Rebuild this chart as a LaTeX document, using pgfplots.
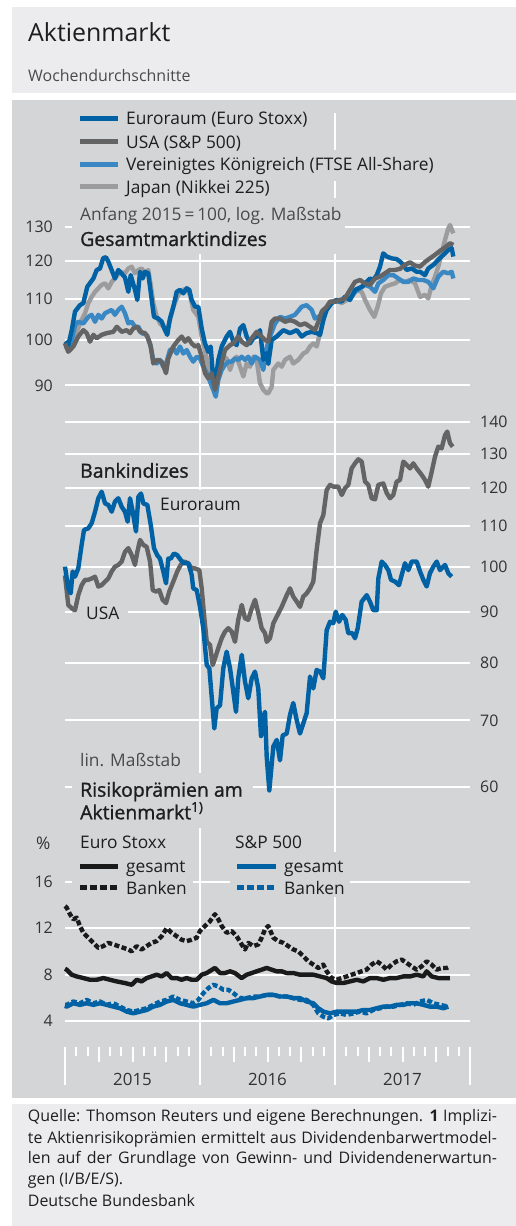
\documentclass[border=0pt]{standalone}
\usepackage{fontspec}
\setmainfont{Open Sans}
\newfontfamily\headfont[FakeBold=1.2]{Open Sans}
\usepackage{pgfplots}
\usepackage{pgfplotstable}
\pgfplotsset{compat=1.18}

\definecolor{panel}{HTML}{D4D5D7}
\definecolor{boxbg}{HTML}{ECECEE}
\definecolor{eublue}{HTML}{0062A5}
\definecolor{usgray}{HTML}{646464}
\definecolor{ukblue}{HTML}{3A88C3}
\definecolor{jpgray}{HTML}{9C9C9E}
\definecolor{txt}{HTML}{1E1E1E}
\definecolor{txtgray}{HTML}{4A4A4A}
\definecolor{tickc}{HTML}{333333}
\definecolor{rpblack}{HTML}{1A1A1A}

\newcommand{\fs}[1]{\fontsize{#1}{#1}\selectfont}

% ---------- Gesamtmarktindizes (Anfang 2015 = 100), x = Monate seit Jan 2015
\pgfplotstableread{
m v
0 99.6
0.29 98.8
0.60 102.3
0.89 106.8
1.33 108.4
1.63 108.9
1.98 113.1
2.52 115.3
2.82 117.6
3.11 118.0
3.40 120.9
3.64 121.1
3.85 119.9
4.44 115.3
4.74 117.6
5.33 115.6
5.63 111.8
5.84 116.2
6.22 112.3
6.43 109.7
6.67 117.1
6.91 115.3
7.11 117.1
7.40 116.7
7.71 109.7
7.91 105.5
8.29 105.1
8.60 104.3
8.89 102.3
9.09 101.2
9.33 105.1
9.63 108.0
9.93 111.8
10.22 112.3
10.52 111.4
10.82 112.7
11.05 112.3
11.26 109.7
11.56 108.0
11.85 108.0
12.15 102.7
12.44 99.2
12.74 97.3
12.95 98.5
13.18 91.2
13.42 91.6
13.63 95.5
13.93 98.5
14.37 100.8
14.67 101.9
14.96 99.6
15.26 98.8
15.56 102.7
15.85 103.5
16.15 100.8
16.44 99.2
16.74 100.4
17.04 100.8
17.33 102.3
17.63 95.5
17.93 97.0
18.07 94.6
18.37 100.0
18.82 100.8
19.40 102.3
20.00 101.6
20.60 102.3
21.04 100.8
21.48 101.6
21.93 101.9
22.37 101.6
22.67 101.2
22.96 104.7
23.26 107.2
23.71 108.9
24.15 109.7
24.60 109.3
24.89 110.5
25.33 109.7
25.78 112.3
26.37 113.1
26.82 114.4
27.11 115.3
27.40 114.9
27.71 116.2
28.00 118.5
28.29 122.2
28.60 121.3
29.04 120.8
29.48 120.6
29.78 119.9
30.07 119.0
30.37 117.6
30.82 118.0
31.26 117.1
31.56 117.1
32.00 116.2
32.29 118.0
32.74 119.0
33.18 120.4
33.63 121.8
34.07 123.2
34.37 123.7
34.52 121.3
}\tabTopEU

\pgfplotstableread{
m v
0 99.2
0.29 97.3
0.74 98.5
1.18 100.8
1.63 102.3
1.93 101.6
2.22 99.6
2.52 101.2
2.82 100.4
3.26 101.2
3.71 101.6
4.29 101.9
4.60 103.1
5.04 101.9
5.48 102.3
5.78 101.6
6.07 102.7
6.43 103.1
6.67 101.9
7.11 101.6
7.32 100.8
7.62 98.5
7.85 94.7
8.20 95.5
8.60 95.1
8.98 92.6
9.18 95.8
9.63 98.5
10.07 100.0
10.37 100.8
10.67 99.6
10.96 100.4
11.26 99.2
11.56 98.5
11.85 98.8
12.15 96.2
12.44 92.6
12.74 91.5
13.04 92.6
13.33 89.1
13.78 93.3
14.22 97.7
14.67 98.8
14.96 99.2
15.40 100.8
15.71 99.6
16.15 98.8
16.60 100.4
17.04 101.9
17.48 100.8
17.78 100.0
18.07 99.6
18.37 104.3
18.67 105.1
19.11 105.1
19.56 104.3
20.00 104.7
20.44 104.3
20.89 103.5
21.33 103.9
21.78 103.1
22.22 102.3
22.52 104.3
22.82 106.8
23.26 108.0
23.56 109.3
24.00 109.3
24.44 109.7
24.89 110.1
25.33 112.3
25.78 114.4
26.22 114.9
26.67 114.0
27.11 113.6
27.56 115.3
28.00 115.8
28.44 116.7
28.89 117.6
29.33 117.6
29.78 117.9
30.22 119.0
30.67 119.7
31.11 118.8
31.56 118.5
32.00 119.8
32.44 120.8
32.89 121.8
33.33 122.9
33.78 123.9
34.22 125.1
34.52 124.6
}\tabTopUS

\pgfplotstableread{
m v
0 98.8
0.44 98.1
0.89 103.5
1.18 104.3
1.63 103.9
2.07 105.5
2.37 106.0
2.67 104.3
2.96 106.0
3.26 105.1
3.56 106.4
3.85 106.8
4.15 107.2
4.44 106.0
4.74 107.2
5.04 108.0
5.33 106.4
5.63 103.9
5.93 104.3
6.22 103.1
6.52 103.1
6.82 101.6
7.26 101.2
7.56 99.2
7.85 95.5
8.15 94.7
8.44 95.5
8.74 94.0
9.04 95.1
9.33 97.7
9.63 98.1
9.93 96.9
10.22 98.5
10.52 96.9
10.82 97.7
11.11 96.2
11.40 95.1
11.71 96.2
12.00 95.8
12.29 94.0
12.60 92.6
12.89 90.8
13.18 89.1
13.40 87.7
13.63 91.2
13.93 93.3
14.22 94.4
14.52 95.1
14.82 95.1
15.11 95.8
15.40 95.5
15.71 96.2
16.00 95.5
16.29 96.2
16.60 94.7
16.89 96.2
17.33 95.5
17.63 93.3
17.87 97.7
18.22 100.8
18.67 103.9
19.11 105.5
19.56 105.1
20.00 105.5
20.44 106.0
21.04 108.0
21.48 108.4
21.93 107.2
22.22 105.1
22.52 105.5
22.82 106.0
23.11 107.2
23.56 108.9
24.00 109.3
24.44 109.3
24.89 110.5
25.33 110.1
25.78 111.8
26.22 112.7
26.67 113.6
27.11 113.1
27.56 111.8
27.85 114.0
28.29 114.9
28.74 116.2
29.18 116.2
29.63 115.3
30.07 114.4
30.52 114.4
30.96 115.3
31.40 114.9
31.85 114.9
32.29 114.4
32.74 112.7
33.18 115.8
33.63 117.1
34.07 116.7
34.37 117.1
34.52 115.3
}\tabTopUK

\pgfplotstableread{
m v
0 98.5
0.44 97.7
0.89 100.8
1.33 103.9
1.78 106.4
2.07 108.9
2.37 110.5
2.67 111.8
2.96 112.7
3.26 113.6
3.56 114.0
3.85 112.7
4.15 114.4
4.44 115.3
4.89 117.1
5.33 116.7
5.63 118.0
5.93 118.5
6.22 116.7
6.52 117.6
6.82 118.0
7.11 116.7
7.40 117.6
7.62 113.6
7.85 108.9
8.15 105.5
8.44 103.9
8.74 103.1
9.04 101.9
9.33 104.7
9.63 108.0
9.93 110.1
10.22 111.8
10.52 112.3
10.82 112.7
11.11 111.0
11.40 107.2
11.85 105.5
12.15 100.8
12.44 97.7
12.74 94.0
13.04 91.2
13.24 89.7
13.48 92.6
13.78 95.5
14.07 96.2
14.37 95.8
14.67 93.3
14.96 95.5
15.26 96.2
15.56 94.0
15.85 91.9
16.15 94.7
16.44 94.0
16.74 96.2
17.04 95.5
17.33 90.5
17.63 89.1
17.93 88.4
18.07 88.4
18.37 89.7
18.52 93.3
18.96 94.7
19.26 94.0
19.56 95.5
20.00 96.2
20.29 94.7
20.74 95.5
21.18 96.9
21.48 97.3
21.78 98.5
22.07 99.2
22.37 98.5
22.67 101.6
22.96 104.7
23.26 108.0
23.71 109.3
24.15 109.7
24.60 108.9
25.04 109.7
25.48 110.5
25.93 112.3
26.37 111.8
26.67 109.7
27.11 107.2
27.49 105.5
27.79 108.0
28.09 111.4
28.44 113.1
28.89 113.6
29.33 114.0
29.78 114.9
30.22 114.4
30.67 114.9
31.11 114.0
31.56 110.5
32.00 111.0
32.29 110.1
32.60 113.6
32.89 115.8
33.18 118.5
33.48 122.2
33.78 126.1
34.07 129.5
34.22 130.5
34.52 128.0
}\tabTopJP

% ---------- Bankindizes
\pgfplotstableread{
m v
0 100.0
0.29 95.1
0.51 94.0
0.68 98.9
0.89 97.7
1.18 99.6
1.48 105.2
1.69 108.9
2.07 109.3
2.37 110.6
2.67 113.6
2.96 117.2
3.26 119.0
3.56 115.8
3.85 115.4
4.15 113.6
4.44 116.3
4.74 117.2
5.04 114.9
5.33 113.6
5.57 111.0
5.78 117.2
6.02 113.6
6.31 108.5
6.52 117.6
6.76 118.5
6.96 115.8
7.32 115.4
7.62 110.2
7.91 104.4
8.20 102.7
8.44 101.9
8.74 98.9
8.98 96.2
9.18 101.9
9.40 101.9
9.69 103.1
9.98 102.7
10.28 101.6
10.58 100.8
10.96 100.8
11.26 98.1
11.40 95.1
11.71 94.7
12.00 91.1
12.29 86.7
12.60 79.6
12.83 79.0
13.04 73.9
13.27 68.7
13.48 72.0
13.78 72.5
14.07 79.0
14.37 82.1
14.67 79.0
14.96 74.8
15.20 71.4
15.40 77.2
15.71 81.5
16.00 76.6
16.29 73.7
16.60 77.2
16.89 78.4
17.18 75.4
17.42 67.5
17.60 70.5
17.78 71.4
17.93 64.3
18.16 59.5
18.52 65.9
18.82 66.9
19.11 63.8
19.35 67.6
19.71 67.9
20.00 70.9
20.29 72.9
20.60 70.0
20.89 67.9
21.18 69.5
21.48 71.2
21.78 77.5
22.07 75.4
22.37 78.7
22.67 78.4
22.96 77.2
23.26 86.3
23.56 88.0
23.85 87.7
24.06 90.1
24.36 88.0
24.65 89.4
24.95 88.4
25.18 85.7
25.54 85.7
25.78 84.7
26.02 86.7
26.37 92.2
26.82 93.6
27.11 92.2
27.40 90.4
27.71 90.4
27.85 97.3
28.15 101.2
28.44 100.4
28.74 99.2
28.98 97.0
29.33 96.6
29.69 95.8
29.93 98.1
30.22 100.8
30.52 99.2
30.82 101.2
31.26 101.2
31.56 98.9
31.85 97.0
32.15 95.5
32.44 98.5
32.74 100.0
33.04 101.2
33.33 99.2
33.78 100.4
34.07 98.5
34.37 97.7
}\tabBankEU

\pgfplotstableread{
m v
0 98.0
0.29 91.5
0.60 90.8
0.89 90.4
1.18 93.6
1.48 95.8
1.78 97.0
2.07 97.0
2.37 97.3
2.67 97.7
2.96 95.5
3.26 95.8
3.56 96.6
3.85 97.3
4.15 98.9
4.44 100.0
4.74 100.4
5.04 101.2
5.33 103.5
5.63 104.4
5.93 102.7
6.22 100.4
6.43 103.5
6.67 106.4
6.96 105.2
7.26 104.7
7.56 101.2
7.80 94.7
8.09 94.4
8.38 94.7
8.68 92.6
8.98 91.9
9.27 94.4
9.63 96.6
9.98 98.9
10.28 100.4
10.58 101.2
10.96 100.8
11.26 99.6
11.56 99.6
11.94 99.2
12.15 95.1
12.36 89.4
12.60 84.0
12.89 83.4
13.13 79.6
13.33 80.8
13.63 82.8
13.93 84.7
14.22 86.0
14.52 86.7
14.82 86.0
15.11 84.0
15.40 88.4
15.71 91.5
16.00 88.7
16.29 88.4
16.60 90.8
16.89 92.6
17.18 89.8
17.48 86.7
17.78 85.7
17.93 84.0
18.22 84.7
18.52 87.7
18.96 89.7
19.26 91.1
19.71 93.6
20.00 95.1
20.29 93.3
20.60 92.2
20.89 91.1
21.18 93.3
21.48 94.0
21.78 95.1
22.07 96.6
22.37 104.0
22.67 110.6
22.96 112.7
23.26 119.5
23.56 120.9
23.85 120.4
24.29 120.4
24.60 118.1
24.89 120.0
25.18 120.9
25.48 125.6
25.78 127.1
26.07 128.3
26.37 127.6
26.67 121.8
26.96 120.9
27.26 117.2
27.56 116.9
27.85 120.9
28.29 121.3
28.60 118.6
28.89 117.2
29.18 118.1
29.48 121.8
29.78 122.3
30.07 127.6
30.37 126.6
30.67 125.6
30.96 127.1
31.26 125.6
31.71 123.7
32.00 122.3
32.29 120.4
32.60 124.7
32.89 129.1
33.18 132.1
33.48 131.6
33.78 135.7
33.98 136.8
34.22 133.2
34.46 132.1
}\tabBankUS

% ---------- Risikopraemien (%)
\pgfplotstableread{
m v
0.00 13.9
0.15 13.77
0.44 13.2
0.74 12.76
1.04 12.9
1.33 12.18
1.63 11.6
2.07 11.17
2.52 10.73
2.96 10.3
3.41 10.45
3.85 10.73
4.30 10.6
4.74 10.45
5.19 10.3
5.63 10.16
5.93 10.0
6.37 10.45
6.81 10.16
7.26 10.45
7.70 10.73
8.15 10.88
8.59 11.3
9.04 12.0
9.48 11.6
9.93 11.3
10.37 11.0
10.81 10.88
11.26 11.0
11.70 11.17
12.00 11.75
12.44 12.18
12.89 12.6
13.33 13.2
13.63 12.76
13.93 12.18
14.37 11.6
14.81 11.75
15.26 11.3
15.70 10.6
16.00 10.16
16.30 10.73
16.74 10.45
17.19 10.6
17.48 11.17
17.78 11.9
18.07 12.18
18.52 11.17
18.96 10.88
19.41 10.73
19.85 10.45
20.30 10.16
20.74 10.0
21.19 9.58
21.63 9.14
22.07 8.86
22.52 8.57
22.96 8.86
23.26 8.28
23.70 7.7
24.15 7.55
24.59 7.7
25.04 7.84
25.48 7.99
25.93 8.13
26.37 8.28
26.81 8.42
27.26 8.86
27.70 9.14
28.15 8.86
28.59 8.42
29.04 8.86
29.48 9.14
29.93 9.29
30.37 9.0
30.81 8.7
31.26 8.42
31.70 8.7
32.15 9.14
32.59 8.86
33.04 8.42
33.48 8.57
33.93 8.57
34.22 8.7
}\tabRpEUbank

\pgfplotstableread{
m v
0 8.5
0.15 8.42
0.59 7.99
1.04 7.84
1.63 7.7
2.22 7.55
2.81 7.55
3.41 7.7
4.00 7.55
4.59 7.41
5.33 7.27
5.93 7.12
6.37 7.55
6.81 7.41
7.26 7.7
7.70 7.84
8.15 7.99
8.59 7.84
9.04 8.13
9.48 7.7
9.93 7.7
10.37 7.55
10.81 7.7
11.26 7.55
11.70 7.55
12.15 7.99
12.59 8.13
13.33 8.57
13.78 8.13
14.22 8.13
14.67 8.28
15.11 8.13
15.70 7.7
16.15 7.99
16.59 8.13
17.04 8.28
17.48 8.42
17.93 8.57
18.37 8.42
18.81 8.28
19.26 8.28
19.70 8.13
20.30 8.13
20.89 7.99
21.48 7.99
22.07 7.99
22.67 7.84
23.26 7.7
23.70 7.41
24.15 7.27
24.74 7.27
25.33 7.41
25.93 7.55
26.52 7.41
27.11 7.7
27.70 7.7
28.30 7.55
28.89 7.7
29.48 7.7
30.07 7.84
30.67 7.84
31.26 7.99
31.85 7.84
32.15 8.28
32.59 7.84
33.19 7.7
33.78 7.7
34.22 7.7
}\tabRpEUall

\pgfplotstableread{
m v
0 5.4
0.15 5.39
0.74 5.68
1.33 5.53
1.93 5.82
2.52 5.53
3.11 5.68
3.70 5.39
4.30 5.53
4.89 5.24
5.48 4.95
6.07 4.81
6.67 4.95
7.26 5.1
7.85 5.39
8.44 5.68
9.04 5.82
9.63 6.11
10.22 5.82
10.81 5.68
11.41 5.53
11.85 5.82
12.30 6.4
12.74 6.83
13.19 7.12
13.63 6.98
14.07 6.69
14.52 6.69
14.96 6.4
15.56 5.97
16.15 5.97
16.74 6.11
17.33 6.11
17.93 6.25
18.52 6.25
19.11 6.11
19.70 6.11
20.30 5.97
20.89 5.82
21.48 5.82
22.07 5.39
22.52 4.66
22.96 4.37
23.41 4.23
23.85 4.52
24.44 4.66
25.04 4.52
25.63 4.66
26.22 4.81
26.81 4.66
27.41 4.95
28.00 5.1
28.59 5.24
29.19 5.24
29.78 5.39
30.37 5.53
30.96 5.39
31.56 5.68
32.15 5.82
32.74 5.53
33.33 5.39
34.07 5.24
}\tabRpUSbank

\pgfplotstableread{
m v
0 5.3
0.15 5.24
0.74 5.53
1.33 5.39
1.93 5.53
2.52 5.39
3.11 5.53
3.70 5.39
4.30 5.24
4.89 5.1
5.48 4.81
6.07 4.66
6.67 4.81
7.26 4.95
7.85 5.24
8.44 5.39
9.04 5.68
9.63 5.82
10.22 5.53
10.81 5.39
11.41 5.24
12.00 5.39
12.59 5.53
13.19 5.82
13.78 5.53
14.37 5.53
14.96 5.68
15.56 5.82
16.15 5.97
16.74 5.97
17.33 6.11
17.93 6.25
18.52 6.25
19.11 6.11
19.70 6.11
20.30 5.97
20.89 5.97
21.48 5.68
22.07 5.53
22.52 5.1
22.96 4.81
23.56 4.66
24.15 4.81
24.74 4.81
25.33 4.81
25.93 4.81
26.52 4.95
27.11 4.95
27.70 5.1
28.30 5.24
28.89 5.24
29.48 5.39
30.07 5.39
30.67 5.53
31.26 5.53
31.85 5.39
32.44 5.24
33.04 5.24
33.63 5.1
34.07 5.24
}\tabRpUSall

\pgfplotsset{
  mybase/.style={scale only axis, width=405bp, xmin=0, xmax=36, clip=false,
    axis line style={draw=none}, major tick length=0pt, xtick=\empty,
    anchor=south west,
    yticklabel style={font=\fs{16}, text=tickc, inner sep=0pt},
    ymajorgrids, grid style={white, line width=2bp}},
  mynogrid/.style={ytick=\empty, ymajorgrids=false},
  myline/.style={line width=4.4bp, line join=round, mark=none},
}

\begin{document}
\begin{tikzpicture}
\begin{scope}[x=1bp, y=1bp, shift={(0bp,1226bp)}, yscale=-1]
  \path[use as bounding box] (0,0) rectangle (516,1226);
  \fill[boxbg] (12,7) rectangle (516,93);
  \fill[panel] (12,100) rectangle (516,1098);
  \fill[boxbg] (12,1104) rectangle (516,1226);
  \draw[white, line width=2bp] (200,113) -- (200,1085);
  \draw[white, line width=2bp] (335,113) -- (335,1085);
  \draw[white, line width=2bp] (65,1047) -- (65,1085);
  \draw[white, line width=2bp] (470,1047) -- (470,1085);
  \foreach \m in {1,...,35}{
    \pgfmathsetmacro{\xx}{65+11.25*\m}
    \pgfmathsetmacro{\yy}{ifthenelse(mod(\m,3)==0,1062,1056.5)}
    \draw[white, line width=2bp] (\xx,1047) -- (\xx,\yy);
  }
\end{scope}

% ---------- pass A: grids and tick labels
\begin{axis}[mybase, ymode=log, ymin=85, ymax=132, height=190.06bp, at={(65bp,815.82bp)},
  ytick={90,100,110,120,130}, yticklabels={90,100,110,120,130},
  yticklabel style={xshift=-12bp}]
  \addplot[draw=none] coordinates {(0,100)};
\end{axis}
\begin{axis}[mybase, ymode=log, ymin=57, ymax=145, height=402.41bp, at={(65bp,417.03bp)},
  ytick={60,70,80,90,100,110,120,130,140},
  yticklabels={60,70,80,90,100,110,120,130,140}, yticklabel pos=right,
  yticklabel style={xshift=10bp}]
  \addplot[draw=none] coordinates {(0,100)};
\end{axis}
\begin{axis}[mybase, ymin=2, ymax=17, height=174.15bp, at={(65bp,181.78bp)},
  ytick={4,8,12,16}, yticklabels={4,8,12,16},
  yticklabel style={xshift=-12bp}]
  \addplot[draw=none] coordinates {(0,8)};
\end{axis}

% ---------- covers and texts
\begin{scope}[x=1bp, y=1bp, shift={(0bp,1226bp)}, yscale=-1]
  \fill[panel] (123,104) rectangle (312,135.5);
  \fill[panel] (123,127.3) rectangle (249,158.8);
  \fill[panel] (123,150) rectangle (441,181.5);
  \fill[panel] (123,172.3) rectangle (280,203.8);
  \fill[panel] (72,198) rectangle (345,254);
  \fill[panel] (154,490) rectangle (244,517);
  \fill[panel] (72,601) rectangle (128,624);
  \fill[panel] (72,773) rectangle (253,828);
  \fill[panel] (72,830) rectangle (193,897);
  \fill[panel] (230,852) rectangle (350,897);

  \node[anchor=base west, inner sep=0, text=txt, font=\fs{25}] at (28,41.7) {Aktienmarkt};
  \node[anchor=base west, inner sep=0, text=txtgray, font=\fs{16}] at (28,81.5) {Wochendurchschnitte};

  \draw[eublue, line width=5bp] (80,118.3) -- (118,118.3);
  \draw[usgray, line width=5bp] (80,141.7) -- (118,141.7);
  \draw[ukblue, line width=5bp] (80,164.3) -- (118,164.3);
  \draw[jpgray, line width=5bp] (80,187) -- (118,187);
  \begin{scope}[every node/.style={anchor=base west, inner sep=0, text=txt, font=\fs{17.4}}]
    \node at (126,125) {Euroraum (Euro Stoxx)};
    \node at (126,148.3) {USA (S\&P 500)};
    \node at (126,171) {Vereinigtes Königreich (FTSE All-Share)};
    \node at (126,193.3) {Japan (Nikkei 225)};
    \node[text=txtgray] at (80,220.7) {Anfang 2015\,=\,100, log. Maßstab};
    \node[font=\headfont\fs{19.5}] at (80,246) {Gesamtmarktindizes};
    \node[font=\headfont\fs{19.5}] at (80,477.7) {Bankindizes};
    \node at (160,511) {Euroraum};
    \node at (86,620) {USA};
    \node[text=txtgray] at (80,766.7) {lin. Maßstab};
    \node[font=\headfont\fs{19.5}] at (80,796.7) {Risikoprämien am};
    \node[font=\headfont\fs{19.5}] at (80,819.3) {Aktienmarkt\textsuperscript{1)}};
    \node[text=tickc] at (36,849.3) {\%};
    \node at (80,848.3) {Euro Stoxx};
    \node at (235,848.3) {S\&P 500};
    \node at (126,872.7) {gesamt};
    \node at (126,894.3) {Banken};
    \node at (284,872.7) {gesamt};
    \node at (284,894.3) {Banken};
  \end{scope}
  \draw[rpblack, line width=5bp] (80,866.7) -- (118,866.7);
  \draw[rpblack, line width=5bp, dash pattern=on 7.3bp off 2.7bp] (80,888) -- (118,888);
  \draw[eublue, line width=5bp] (237,866.7) -- (276,866.7);
  \draw[eublue, line width=5bp, dash pattern=on 7.3bp off 2.7bp] (237,888) -- (276,888);

  \begin{scope}[every node/.style={anchor=base, inner sep=0, text=tickc, font=\fs{17}}]
    \node at (132.5,1086) {2015};
    \node at (267.5,1086) {2016};
    \node at (402.5,1086) {2017};
  \end{scope}

  \begin{scope}[every node/.style={anchor=base west, inner sep=0, text=txt, font=\fs{16}}]
    \node at (27.7,1121.7) {\makebox[469bp][s]{Quelle: Thomson Reuters und eigene Berechnungen. \textbf{1} Implizi-}};
    \node at (27.7,1143.3) {\makebox[469bp][s]{te Aktienrisikoprämien ermittelt aus Dividendenbarwertmodel-}};
    \node at (27.7,1164) {\makebox[469bp][s]{len auf der Grundlage von Gewinn- und Dividendenerwartun-}};
    \node at (27.7,1184.3) {gen (I/B/E/S).};
    \node at (27.7,1207) {Deutsche Bundesbank};
  \end{scope}
\end{scope}

% ---------- pass B: data
\begin{axis}[mybase, mynogrid, ymode=log, ymin=85, ymax=132, height=190.06bp, at={(65bp,815.82bp)}]
  \addplot[myline, jpgray] table[x=m,y=v] {\tabTopJP};
  \addplot[myline, ukblue] table[x=m,y=v] {\tabTopUK};
  \addplot[myline, eublue] table[x=m,y=v] {\tabTopEU};
  \addplot[myline, usgray] table[x=m,y=v] {\tabTopUS};
\end{axis}
\begin{axis}[mybase, mynogrid, ymode=log, ymin=57, ymax=145, height=402.41bp, at={(65bp,417.03bp)}]
  \addplot[myline, usgray] table[x=m,y=v] {\tabBankUS};
  \addplot[myline, eublue] table[x=m,y=v] {\tabBankEU};
\end{axis}
\begin{axis}[mybase, mynogrid, ymin=2, ymax=17, height=174.15bp, at={(65bp,181.78bp)}]
  \addplot[myline, rpblack, dash pattern=on 5bp off 2.5bp] table[x=m,y=v] {\tabRpEUbank};
  \addplot[myline, rpblack] table[x=m,y=v] {\tabRpEUall};
  \addplot[myline, eublue, dash pattern=on 5bp off 2.5bp] table[x=m,y=v] {\tabRpUSbank};
  \addplot[myline, eublue] table[x=m,y=v] {\tabRpUSall};
\end{axis}
\end{tikzpicture}
\end{document}
